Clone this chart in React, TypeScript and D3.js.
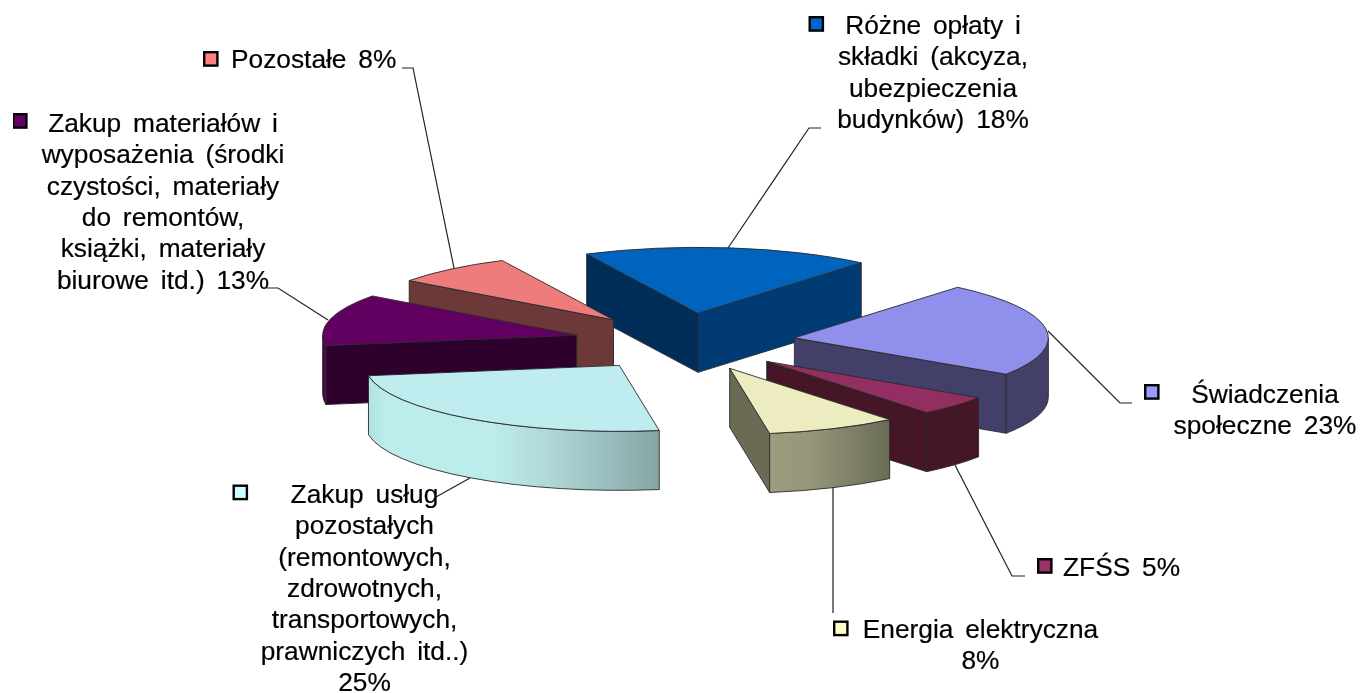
import React from "react";
import * as d3 from "d3";

// ---------- data ----------
const categoryLines: string[][] = [
  ["Różne opłaty i", "składki (akcyza,", "ubezpieczenia", "budynków)"],
  ["Świadczenia", "społeczne"],
  ["ZFŚS"],
  ["Energia elektryczna", ""],
  ["Zakup usług", "pozostałych", "(remontowych,", "zdrowotnych,", "transportowych,", "prawniczych itd..)", ""],
  ["Zakup materiałów i", "wyposażenia (środki", "czystości, materiały", "do remontów,", "książki, materiały", "biurowe itd.)"],
  ["Pozostałe"],
];
const percentLabels = [18, 23, 5, 8, 25, 13, 8];
// slice sizes (in % of the full turn)
const sliceShares = [18.33, 23.19, 4.86, 8.33, 25.0, 12.64, 7.65];

// ---------- styles ----------
const legendColors = ["#0066cc", "#9999ff", "#993366", "#ffffcc", "#ccffff", "#660066", "#ff8080"];
const topColors = ["#0063bd", "#9090ec", "#932f63", "#ececc0", "#bfecee", "#620062", "#ee7c7c"];
const startWallColors = ["#002d59", "#424069", "#441728", "#6a6b55", "#8aa8a8", "#2e002e", "#6c3838"];
const endWallColors = ["#003a73", "#424069", "#441728", "#6a6b55", "#8aa8a8", "#2e002e", "#6c3838"];
const curveFills = ["#003a73", "#424069", "#441728", "url(#gEnergy)", "url(#gTeal)", "#4e004e", "#6c3838"];

// ---------- layout ----------
const W = 1361, H = 693;
const cx = 684.5, cy = 342, rx = 254, ry = 66, depth = 59, explode = 111;
const startDeg = -26;
const drawOrder = [0, 6, 5, 4, 1, 2, 3];

type Lay = { sq: [number, number]; anchorX: number; anchor: "middle" | "start"; base: number };
const labelLayout: Lay[] = [
  { sq: [810, 17.5], anchorX: 933, anchor: "middle", base: 34 },
  { sq: [1145.5, 385.5], anchorX: 1265, anchor: "middle", base: 403 },
  { sq: [1038.5, 559.5], anchorX: 1063, anchor: "start", base: 576 },
  { sq: [834.5, 622], anchorX: 980.5, anchor: "middle", base: 638 },
  { sq: [234, 486], anchorX: 364.5, anchor: "middle", base: 503 },
  { sq: [13.5, 114.5], anchorX: 163, anchor: "middle", base: 132 },
  { sq: [204.5, 52.5], anchorX: 231, anchor: "start", base: 68 },
];
const leaders: [number, number][][] = [
  [[728, 248], [809, 128], [821, 128]],
  [[1048, 331], [1120, 403], [1132, 403]],
  [[955, 465], [1012, 576], [1025, 576]],
  [[833, 487], [833, 613]],
  [[470, 478], [436, 497]],
  [[328, 320], [278, 288], [267, 288]],
  [[454, 268], [413, 68], [402, 68]],
];
const lineGap = 31.35;

const startRad = (startDeg * Math.PI) / 180;
const pie = d3.pie<number>().sort(null).startAngle(startRad).endAngle(startRad + 2 * Math.PI);
const arcs = pie(sliceShares);
const unitArc = d3.arc();
const lineGen = d3.line();

const px = (t: number) => rx * Math.sin(t);
const py = (t: number) => -ry * Math.cos(t);

function wallPath(t: number) {
  return `M0,0L${px(t)},${py(t)}L${px(t)},${py(t) + depth}L0,${depth}Z`;
}
function curvePath(a: number, b: number) {
  return (
    `M${px(a)},${py(a)}A${rx},${ry} 0 0 1 ${px(b)},${py(b)}` +
    `L${px(b)},${py(b) + depth}A${rx},${ry} 0 0 0 ${px(a)},${py(a) + depth}Z`
  );
}

const edge = { stroke: "#2a2a2a", strokeWidth: 0.9, strokeLinejoin: "round" as const };

function Slice({ i }: { i: number }) {
  const a = arcs[i];
  const mid = (a.startAngle + a.endAngle) / 2;
  const ox = cx + explode * Math.sin(mid);
  const oy = cy - explode * (ry / rx) * Math.cos(mid);
  const c0 = Math.max(a.startAngle, Math.PI / 2);
  const c1 = Math.min(a.endAngle, (3 * Math.PI) / 2);
  const top = unitArc({
    innerRadius: 0,
    outerRadius: rx,
    startAngle: a.startAngle,
    endAngle: a.endAngle,
  } as any) as string;
  return (
    <g transform={`translate(${ox},${oy})`}>
      {Math.sin(a.startAngle) < 0 && <path d={wallPath(a.startAngle)} fill={startWallColors[i]} {...edge} />}
      {Math.sin(a.endAngle) > 0 && <path d={wallPath(a.endAngle)} fill={endWallColors[i]} {...edge} />}
      {c1 > c0 && <path d={curvePath(c0, c1)} fill={curveFills[i]} {...edge} />}
      <path
        d={top}
        transform={`scale(1,${ry / rx})`}
        fill={topColors[i]}
        vectorEffect="non-scaling-stroke"
        {...edge}
      />
    </g>
  );
}

export default function App() {
  return (
    <svg
      width={W}
      height={H}
      viewBox={`0 0 ${W} ${H}`}
      style={{ position: "absolute", left: 0, top: 0, display: "block", background: "#fff" }}
    >
      <defs>
        <linearGradient id="gTeal" x1="0" x2="1" y1="0" y2="0">
          <stop offset="0" stopColor="#b2e2e2" />
          <stop offset="0.06" stopColor="#bdecec" />
          <stop offset="0.42" stopColor="#bdecec" />
          <stop offset="0.62" stopColor="#b0d8d8" />
          <stop offset="1" stopColor="#87a5a5" />
        </linearGradient>
        <linearGradient id="gEnergy" x1="0" x2="1" y1="0" y2="0">
          <stop offset="0" stopColor="#9c9c7e" />
          <stop offset="0.35" stopColor="#96967a" />
          <stop offset="1" stopColor="#696b55" />
        </linearGradient>
        <filter id="soft" x="0" y="0" width="100%" height="100%">
          <feGaussianBlur stdDeviation="0.45" />
        </filter>
      </defs>
      <g filter="url(#soft)">
        {drawOrder.map((i) => (
          <Slice key={i} i={i} />
        ))}
        {leaders.map((pts, i) => (
          <path key={i} d={lineGen(pts) as string} fill="none" stroke="#222" strokeWidth={1.2} />
        ))}
        {categoryLines.map((lines, i) => {
          const lay = labelLayout[i];
          return (
            <g key={i}>
              <rect
                x={lay.sq[0] - 0.3}
                y={lay.sq[1] - 0.3}
                width={13.2}
                height={13.4}
                fill={legendColors[i]}
                stroke="#000"
                strokeWidth={2.4}
              />
              <text
                fontFamily="'Liberation Sans', Arial, sans-serif"
                fontSize={26.3}
                wordSpacing={4.5}
                fill="#000"
                stroke="#000"
                strokeWidth={0.2}
                textAnchor={lay.anchor}
              >
                {lines.map((l, j) => (
                  <tspan key={j} x={lay.anchorX} y={lay.base + j * lineGap}>
                    {j === lines.length - 1 ? `${l}${l ? " " : ""}${percentLabels[i]}%` : l}
                  </tspan>
                ))}
              </text>
            </g>
          );
        })}
      </g>
    </svg>
  );
}
